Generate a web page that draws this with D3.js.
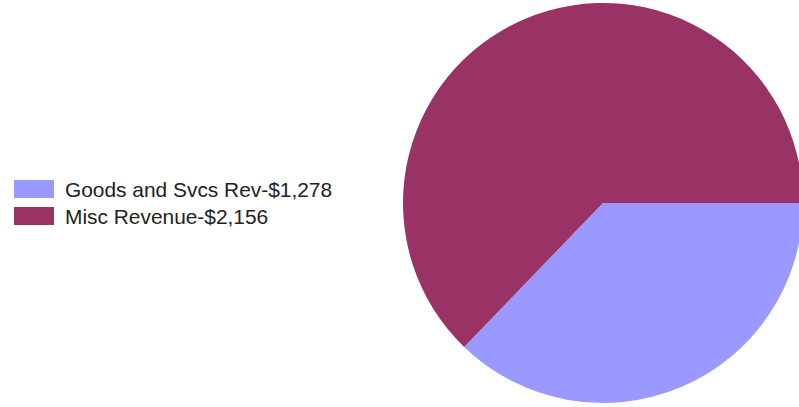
<!DOCTYPE html>
<html><head><meta charset="utf-8">
<script src="https://cdn.jsdelivr.net/npm/d3@7"></script>
<style>html,body{margin:0;padding:0;background:#fff;}svg{display:block;}</style>
</head><body>
<svg id="chart" width="799" height="407"></svg>
<script>
const categories = ["Goods and Svcs Rev", "Misc Revenue"];
const values = [1278, 2156];
const labels = ["Goods and Svcs Rev-$1,278", "Misc Revenue-$2,156"];
const colors = ["#9999FF", "#993366"];

const svg = d3.select("#chart");
const cx = 603, cy = 203, r = 200;
const pie = d3.pie().sort(null).startAngle(Math.PI/2).endAngle(Math.PI/2 + 2*Math.PI);
const arc = d3.arc().innerRadius(0).outerRadius(r);
const color = d3.scaleOrdinal().domain(categories).range(colors);
const data = categories.map((c,i)=>({c, v: values[i]}));
svg.append("g").attr("transform",`translate(${cx},${cy})`)
  .selectAll("path").data(pie.value(d=>d.v)(data)).join("path")
  .attr("d", arc).attr("fill", d=>color(d.data.c));

const lg = svg.append("g");
const rows = lg.selectAll("g").data(categories).join("g")
  .attr("transform",(d,i)=>`translate(14,${180 + i*27})`);
rows.append("rect").attr("width",40).attr("height",18).attr("fill",d=>color(d));
rows.append("text").attr("x",51).attr("y",17).text((d,i)=>labels[i])
  .attr("font-family","Arial, 'Liberation Sans', sans-serif").attr("font-size",20.9).attr("fill","#222");
</script>
</body></html>
